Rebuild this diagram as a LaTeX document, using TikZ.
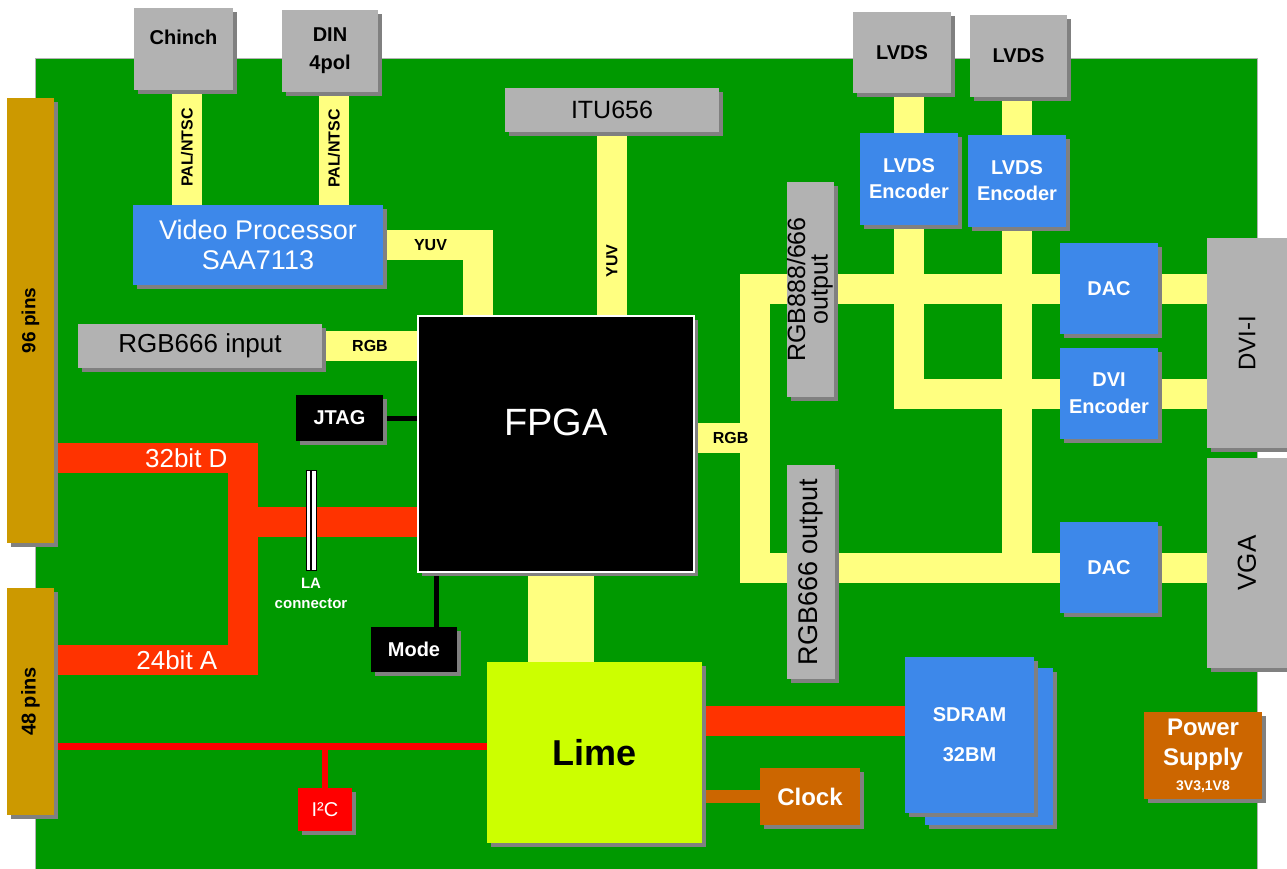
\documentclass[tikz,border=0pt]{standalone}
\usepackage{fontspec}
\setmainfont{Liberation Sans}
\usepackage{graphicx}
\usetikzlibrary{positioning,shadows,backgrounds}
\definecolor{BoardGreen}{HTML}{009900}
\definecolor{PinGold}{HTML}{CC9900}
\definecolor{BoxGrey}{HTML}{B2B2B2}
\definecolor{ShadeGrey}{HTML}{808080}
\definecolor{BusYellow}{HTML}{FFFF80}
\definecolor{ChipBlue}{HTML}{3D88EA}
\definecolor{BusRed}{HTML}{FF3300}
\definecolor{LineRed}{HTML}{FF0000}
\definecolor{LimeGreen}{HTML}{CCFF00}
\definecolor{ClockBrown}{HTML}{CC6600}

\begin{document}
\begin{tikzpicture}[
  x=1pt,y=-1pt,
  chip/.style={rectangle,inner sep=0pt,outer sep=0pt,
    drop shadow={shadow xshift=4pt,shadow yshift=-4pt,fill=ShadeGrey,opacity=1}},
  greybox/.style={chip,fill=BoxGrey,text=black},
  bluebox/.style={chip,fill=ChipBlue,text=white},
  darkbox/.style={chip,fill=black,text=white},
  brownbox/.style={chip,fill=ClockBrown,text=white},
  pinbox/.style={chip,fill=PinGold,text=black,minimum width=47pt},
  lbl/.style={font=\bfseries\fontsize{#1}{#1}\selectfont},
  txt/.style={font=\fontsize{#1}{#1}\selectfont},
  bus/.style={draw=BusYellow,line width=30pt,
    preaction={draw=ShadeGrey,transform canvas={shift={(3pt,-3pt)}}}},
  redbus/.style={bus,draw=BusRed},
  wire/.style={draw=black,line width=5pt,
    preaction={draw=ShadeGrey,transform canvas={shift={(2pt,-2pt)}}}},
  i2cwire/.style={wire,draw=LineRed,line width=7pt},
  lacon/.style={rectangle,fill=white,draw=black,line width=.6pt,inner sep=0pt,
    minimum width=10pt,minimum height=100pt,
    path picture={\draw[line width=1.2pt] (path picture bounding box.north)
      -- (path picture bounding box.south);}}
]
  \useasboundingbox (0,0) rectangle (1287,868);

  \node[pinbox,minimum height=445pt,lbl=19] (pins96) at (30.5,320.5) {\rotatebox{90}{96 pins}};
  \node[pinbox,minimum height=227pt,lbl=20] (pins48) at (30.5,701.5) {\rotatebox{90}{48 pins}};

  \node[greybox,minimum width=99pt,minimum height=82pt,
        label={[lbl=20,yshift=12pt]center:Chinch}] (chinch) at (183.5,49) {};
  \node[greybox,minimum width=96pt,minimum height=82pt,lbl=20,align=center] (din) at (330,51) {DIN\\[8pt]4pol};
  \node[bluebox,minimum width=250pt,minimum height=80pt,txt=27,align=center] (vproc) at (258,245)
    {Video Processor\\[3pt]SAA7113};
  \node[greybox,minimum width=214pt,minimum height=44pt,txt=25] (itu) at (612,110) {ITU656};
  \node[greybox,minimum width=244pt,minimum height=44pt,txt=26] (rgbin) at (200,346) {RGB666 input};
  \node[darkbox,draw=white,line width=1.5pt,minimum width=276pt,minimum height=256pt,
        label={[txt=38,text=white,yshift=22pt]center:FPGA}] (fpga) at (556,444) {};
  \node[darkbox,minimum width=87pt,minimum height=46pt,lbl=20] (jtag) at (339.5,418) {JTAG};
  \node[lacon,label={[lbl=15,text=white,align=center,label distance=4pt]below:LA\\[5pt]connector}]
    (la) at (311,520) {};
  \node[darkbox,minimum width=86pt,minimum height=45pt,lbl=20] (mode) at (414,649.5) {Mode};
  \node[chip,fill=LimeGreen,minimum width=215pt,minimum height=181pt,lbl=36] (lime) at (594.5,752.5) {Lime};
  \node[chip,fill=LineRed,text=white,minimum width=54pt,minimum height=43pt,txt=20] (i2c) at (325,809.5) {I²C};

  \node[bluebox,minimum width=128pt,minimum height=157pt] (sdramb) at (989,746.5) {};
  \node[bluebox,minimum width=129pt,minimum height=156pt,lbl=20,align=center] (sdram) at (969.5,735)
    {SDRAM\\[20pt]32BM};
  \node[brownbox,minimum width=100pt,minimum height=57pt,lbl=24] (clock) at (810,796.5) {Clock};
  \node[brownbox,minimum width=118pt,minimum height=87pt,lbl=24,align=center] (power) at (1203,755.5)
    {Power\\[6pt]Supply\\[1pt]{\fontsize{14}{14}\selectfont 3V3,1V8}};

  \node[greybox,minimum width=47pt,minimum height=215pt,font=\fontsize{25}{21}\selectfont] (rgbout1) at (810.5,289.5)
    {\rotatebox{90}{\begin{tabular}{@{}c@{}}RGB888/666\\output\end{tabular}}};
  \node[greybox,minimum width=48pt,minimum height=214pt,txt=27] (rgbout2) at (811,572)
    {\rotatebox{90}{RGB666 output}};

  \node[greybox,minimum width=98pt,minimum height=81pt,lbl=20] (lvds1) at (902,52.5) {LVDS};
  \node[greybox,minimum width=97pt,minimum height=82pt,lbl=20] (lvds2) at (1018.5,56) {LVDS};
  \node[bluebox,minimum width=98pt,minimum height=92pt,lbl=20,align=center] (enc1) at (909,179) {LVDS\\[6pt]Encoder};
  \node[bluebox,minimum width=98pt,minimum height=92pt,lbl=20,align=center] (enc2) at (1017,181) {LVDS\\[6pt]Encoder};
  \node[bluebox,minimum width=98pt,minimum height=91pt,lbl=20] (dac1) at (1109,288.5) {DAC};
  \node[bluebox,minimum width=98pt,minimum height=91pt,lbl=20,align=center] (dvienc) at (1109,393.5) {DVI\\[7pt]Encoder};
  \node[bluebox,minimum width=98pt,minimum height=91pt,lbl=20] (dac2) at (1109,567.5) {DAC};
  \node[greybox,minimum width=80pt,minimum height=210pt,txt=24] (dvii) at (1247,343) {\rotatebox{90}{DVI-I}};
  \node[greybox,minimum width=80pt,minimum height=210pt,txt=26] (vga) at (1247,563) {\rotatebox{90}{VGA}};

  \begin{scope}[on background layer]
    \fill[BoardGreen,draw=BoxGrey,line width=1pt] (35,58) rectangle (1257,872);

    \draw[bus] ([xshift=3.5pt]chinch.south) -- node[rotate=90,lbl=16] {PAL/NTSC}
      ([xshift=3.5pt]chinch.south |- vproc.north);
    \draw[bus] ([xshift=4pt]din.south) -- node[rotate=90,lbl=16] {PAL/NTSC}
      ([xshift=4pt]din.south |- vproc.north);
    \draw[bus] (vproc.east) -| node[pos=.25,lbl=16] {YUV} ([xshift=60pt]fpga.north west);
    \draw[bus] (itu.south) -- node[pos=.7,rotate=90,lbl=16] {YUV} (itu.south |- fpga.north);
    \draw[bus] (rgbin.east) -- node[lbl=16] {RGB} (rgbin.east -| fpga.west);
    \draw[bus,line width=66pt] ([xshift=5pt]fpga.south) -- ([xshift=5pt]fpga.south |- lime.north);

    \coordinate (tap) at (755,438);
    \draw[bus] (fpga.east |- tap) -- (tap);
    \draw[bus] (enc2.south) -- (enc2.south |- dac2.west);
    \draw[bus] (enc1.north) -- (enc1.north |- lvds1.south);
    \draw[bus] (enc2.north) -- (enc2.north |- lvds2.south);
    \draw[bus] (enc1.south) |- (dvienc.west);
    \draw[bus] (dac1.west) -| (tap) |- (dac2.west);
    \draw[bus] (dac1.east) -- (dac1.east -| dvii.west);
    \draw[bus] (dvienc.east) -- (dvienc.east -| dvii.west);
    \draw[bus] (dac2.east) -- (dac2.east -| vga.west);
    \path (fpga.east |- tap) -- node[pos=.6,lbl=16] {RGB} (tap);

    \coordinate (dtap) at (243,458);
    \coordinate (atap) at (243,660);
    \coordinate (ltap) at (258,522);
    \draw[redbus] (dtap -| pins96.east) -- node[pos=.7,txt=26,text=white] {32bit D} (dtap)
      -- (atap) -- node[pos=.35,txt=26,text=white] {24bit A} (atap -| pins48.east);
    \draw[redbus] (ltap) -- (ltap -| fpga.west);
    \draw[redbus] ([yshift=14pt]sdram.west) -- ([yshift=14pt]sdram.west -| lime.east);
    \draw[bus,draw=ClockBrown,line width=13pt] (clock.west) -- (clock.west -| lime.east);

    \coordinate (itap) at (328,746);
    \draw[i2cwire] (itap -| pins48.east) -- (itap -| lime.west);
    \draw[i2cwire,line width=6pt] (i2c.north |- itap) -- (i2c.north);

    \draw[wire] (jtag.east) -- (jtag.east -| fpga.west);
    \draw[wire] ([xshift=22pt]mode.north) -- ([xshift=22pt]mode.north |- fpga.south);
  \end{scope}
\end{tikzpicture}
\end{document}
